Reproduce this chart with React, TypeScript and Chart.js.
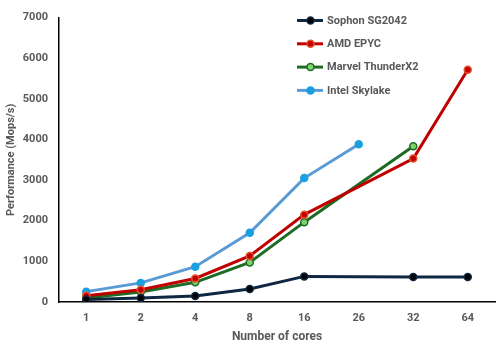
import React, { useEffect, useRef } from "react";
import { Chart, registerables } from "chart.js";

Chart.register(...registerables);

const categories = ["1", "2", "4", "8", "16", "26", "32", "64"];
const sophon = [60, 100, 150, 318, 630, null, 615, 615];
const amd = [155, 300, 580, 1135, 2150, null, 3530, 5715];
const marvel = [100, 245, 485, 975, 1965, null, 3835, null];
const intel = [255, 470, 870, 1705, 3050, 3885, null, null];
const yTicks = [0, 1000, 2000, 3000, 4000, 5000, 6000, 7000];

const FONT = "Roboto";
const TEXT = "#595959";

const seriesStyles = [
  { label: "Sophon SG2042", line: "#0E2841", fill: "#000000", border: "#0E2841" },
  { label: "AMD EPYC", line: "#C00000", fill: "#C00000", border: "#E8502A" },
  { label: "Marvel ThunderX2", line: "#1E6B24", fill: "#7FD16B", border: "#1E6B24" },
  { label: "Intel Skylake", line: "#5B9BD5", fill: "#1AA0E0", border: "#1AA0E0" },
];

const legendPlugin = {
  id: "customLegend",
  afterDraw(chart: any) {
    const ctx = chart.ctx;
    ctx.save();
    seriesStyles.forEach((s, i) => {
      const y = 20.5 + i * 23.3;
      ctx.strokeStyle = s.line;
      ctx.lineWidth = 3;
      ctx.beginPath();
      ctx.moveTo(297, y);
      ctx.lineTo(323, y);
      ctx.stroke();
      ctx.fillStyle = s.fill;
      ctx.strokeStyle = s.border;
      ctx.lineWidth = 1.5;
      ctx.beginPath();
      ctx.arc(310.5, y, 3.5, 0, Math.PI * 2);
      ctx.fill();
      ctx.stroke();
      ctx.fillStyle = TEXT;
      ctx.font = `bold 11px ${FONT}`;
      ctx.textBaseline = "middle";
      ctx.textAlign = "left";
      ctx.fillText(s.label, 327, y + 0.5);
    });
    ctx.restore();
  },
};

export default function App() {
  const ref = useRef<HTMLCanvasElement>(null);
  useEffect(() => {
    document.body.style.margin = "0";
    const values = [sophon, amd, marvel, intel];
    const chart = new Chart(ref.current!, {
      type: "line",
      data: {
        labels: categories,
        datasets: seriesStyles.map((s, i) => ({
          label: s.label,
          data: values[i],
          borderColor: s.line,
          backgroundColor: s.fill,
          pointBackgroundColor: s.fill,
          pointBorderColor: s.border,
          pointBorderWidth: 1.5,
          pointRadius: 3.5,
          borderWidth: 3,
          spanGaps: true,
          tension: 0,
        })),
      },
      options: {
        animation: false,
        responsive: false,
        maintainAspectRatio: false,
        layout: { padding: { top: 8, right: 6, left: 0, bottom: 0 } },
        plugins: { legend: { display: false }, tooltip: { enabled: false } },
        scales: {
          x: {
            offset: true,
            grid: { display: false, drawTicks: false },
            border: { display: true, color: "#000000", width: 1.5 },
            ticks: { color: TEXT, font: { family: FONT, size: 11, weight: "bold" }, padding: 10 },
            title: {
              display: true,
              text: "Number of cores",
              color: TEXT,
              font: { family: FONT, size: 12, weight: "bold" },
              padding: { top: 0, bottom: 5 },
            },
            afterFit(scale: any) {
              scale.height = 47;
            },
          },
          y: {
            min: 0,
            max: 7000,
            grid: { display: false, drawTicks: false },
            border: { display: true, color: "#000000", width: 1.5 },
            afterBuildTicks(scale: any) {
              scale.ticks = yTicks.map((v) => ({ value: v }));
            },
            ticks: {
              color: TEXT,
              font: { family: FONT, size: 11, weight: "bold" },
              padding: 11,
              callback: (v: any) => String(v),
            },
            title: {
              display: true,
              text: "Performance (Mops/s)",
              color: TEXT,
              font: { family: FONT, size: 11, weight: "bold" },
              padding: { top: 5, bottom: 0 },
            },
            afterFit(scale: any) {
              scale.width = 59;
            },
          },
        },
      },
      plugins: [legendPlugin],
    });
    return () => chart.destroy();
  }, []);
  return (
    <div style={{ width: 501, height: 349 }}>
      <canvas ref={ref} width={501} height={349} style={{ width: 501, height: 349 }} />
    </div>
  );
}
